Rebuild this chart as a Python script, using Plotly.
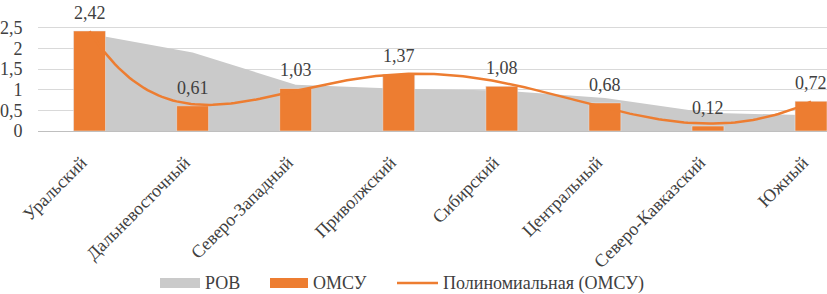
import numpy as np
import plotly.graph_objects as go

categories = ["Уральский", "Дальневосточный", "Северо-Западный", "Приволжский",
              "Сибирский", "Центральный", "Северо-Кавказский", "Южный"]
omsu = [2.42, 0.61, 1.03, 1.37, 1.08, 0.68, 0.12, 0.72]
rov = [2.35, 1.90, 1.12, 1.02, 0.98, 0.80, 0.44, 0.38]
y_ticks = [0, 0.5, 1, 1.5, 2, 2.5, 3]
y_tick_labels = ["0", "0,5", "1", "1,5", "2", "2,5", "3"]
trend_degree = 5

FONT = "'Liberation Serif', 'Times New Roman', 'DejaVu Serif', serif"
TXT = "#404040"
ORANGE = "#ED7D31"
GRAY = "#CACACA"

idx = np.arange(len(categories))
coef = np.polyfit(idx, omsu, trend_degree)
xs = np.linspace(0, len(categories) - 1, 200)
ys = np.polyval(coef, xs)

XR = [-0.5, 7.155]
YR = [0, 3]

fig = go.Figure()
fig.add_trace(go.Scatter(x=idx, y=rov, name="РОВ", mode="lines", fill="tozeroy",
                         fillcolor=GRAY, line=dict(width=0, color=GRAY), showlegend=False,
                         xaxis="x", yaxis="y"))
fig.add_trace(go.Bar(x=idx, y=omsu, name="ОМСУ", marker_color=ORANGE, width=0.31,
                     showlegend=False, xaxis="x2", yaxis="y2"))
fig.add_trace(go.Scatter(x=xs, y=ys, name="Полиномиальная (ОМСУ)", mode="lines",
                         line=dict(color=ORANGE, width=2.5), showlegend=False,
                         xaxis="x2", yaxis="y2"))

for i, v in enumerate(omsu):
    fig.add_annotation(x=i, y=v, xref="x2", yref="y2", text=f"{v:.2f}".replace(".", ","),
                       showarrow=False, yanchor="bottom", yshift=6,
                       font=dict(family=FONT, size=18, color=TXT))

# custom legend
L, W = 38, 789
H = 124
leg_y = -(283 - 131) / H
items = [
    ("rect", GRAY, 160, 200, "РОВ"),
    ("rect", ORANGE, 270, 308, "ОМСУ"),
    ("line", ORANGE, 397, 438, "Полиномиальная (ОМСУ)"),
]
def px2x(p):
    return (p - L) / W
for kind, col, x0, x1, label in items:
    if kind == "rect":
        fig.add_shape(type="rect", xref="paper", yref="paper",
                      x0=px2x(x0), x1=px2x(x1), y0=leg_y - 5 / H, y1=leg_y + 5 / H,
                      fillcolor=col, line=dict(width=0))
    else:
        fig.add_shape(type="line", xref="paper", yref="paper",
                      x0=px2x(x0), x1=px2x(x1), y0=leg_y, y1=leg_y,
                      line=dict(color=col, width=2.5))
    fig.add_annotation(xref="paper", yref="paper", x=px2x(x1 + 3), y=leg_y, text=label,
                       showarrow=False, xanchor="left", yanchor="middle",
                       font=dict(family=FONT, size=18, color=TXT))

fig.update_layout(
    width=827, height=294,
    margin=dict(l=38, r=0, t=7, b=163, autoexpand=False),
    paper_bgcolor="white", plot_bgcolor="white",
    font=dict(family=FONT, size=18, color=TXT),
    showlegend=False,
    xaxis=dict(tickmode="array", tickvals=list(idx), ticktext=categories,
               range=XR, tickangle=-45, showgrid=False, automargin=False,
               showline=True, linecolor="#BFBFBF", linewidth=1,
               ticks="outside", ticklen=13, tickcolor="rgba(0,0,0,0)",
               ticklabelshift=-8,
               tickfont=dict(family=FONT, size=18, color=TXT), zeroline=False),
    yaxis=dict(range=YR, tickmode="array", tickvals=y_ticks, ticktext=y_tick_labels,
               showgrid=True, gridcolor="#D9D9D9", gridwidth=1, zeroline=False,
               automargin=False,
               ticks="outside", ticklen=11, tickcolor="rgba(0,0,0,0)",
               tickfont=dict(family=FONT, size=18, color=TXT)),
    xaxis2=dict(overlaying="x", range=XR, visible=False),
    yaxis2=dict(overlaying="y", range=YR, visible=False),
)

fig.write_html("out.html", config={"displayModeBar": False},
               post_script="document.body.style.margin='0';document.body.style.overflow='hidden';")
